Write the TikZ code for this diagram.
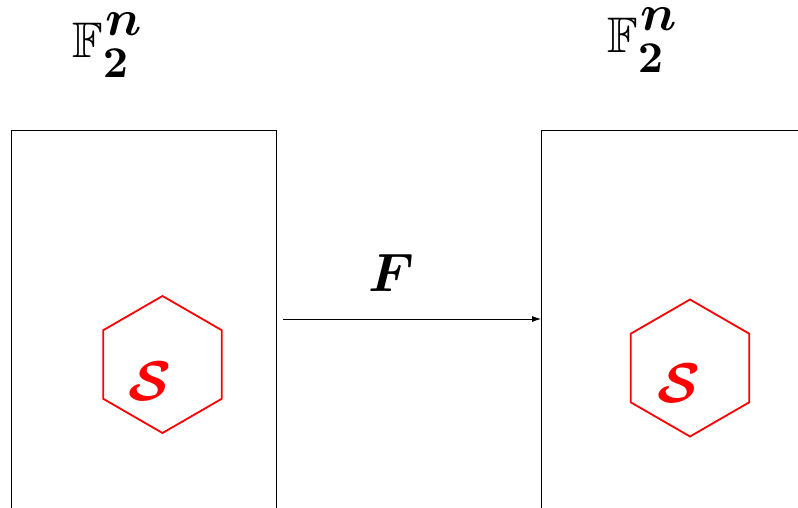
\documentclass[tikz,border=0pt]{standalone}
\usepackage{amsmath,amssymb}
\usetikzlibrary{shapes.geometric,arrows.meta}
\tikzset{
  setbox/.style={draw=black, line width=0.8pt, inner sep=0pt, anchor=north west},
  hexnode/.style={draw=red, line width=1.8pt, regular polygon, regular polygon sides=6,
    shape border rotate=30, minimum size=137pt, inner sep=0pt, outer sep=0pt},
  redlbl/.style={text=red, inner sep=0pt},
  maplbl/.style={inner sep=0pt},
  spacelbl/.style={inner sep=0pt, anchor=base west},
  maparrow/.style={draw=black, line width=0.8pt, -{Latex[length=9pt,width=6pt]}}
}
\newcommand{\FtwoN}{\scalebox{5}{$\mathbb{F}$}\rlap{\raisebox{-20pt}{\scalebox{4.4}{$\mathbf{2}$}}}\hspace{3pt}\raisebox{22pt}{\scalebox{5.1}{$\boldsymbol{n}$}}}
\begin{document}
\begin{tikzpicture}[x=1pt,y=-1pt]
  \useasboundingbox (0,0) rectangle (798,507);
  \clip (0,0) rectangle (798,507);
  % boxes
  \node[setbox, minimum width=265pt, minimum height=450pt] (boxL) at (11,130) {};
  \node[setbox, minimum width=300pt, minimum height=450pt] (boxR) at (541,130) {};
  % labels above
  \node[spacelbl] (labL) at (72,57) {\FtwoN};
  \node[spacelbl] (labR) at (607,52) {\FtwoN};
  % hexagons
  \node[hexnode] (hexL) at (162.5,364.5) {};
  \node[hexnode] (hexR) at (690,368) {};
  \node[redlbl] (sL) at (150,381) {\scalebox{5.6}{$\boldsymbol{\mathcal{S}}$}};
  \node[redlbl] (sR) at (679,383) {\scalebox{5.6}{$\boldsymbol{\mathcal{S}}$}};
  % arrow
  \coordinate (arrS) at (283,319);
  \draw[maparrow] (arrS) -- (arrS -| boxR.west);
  \node[maplbl] (mapF) at (391,273) {\scalebox{5.4}{$\boldsymbol{F}$}};
\end{tikzpicture}
\end{document}
